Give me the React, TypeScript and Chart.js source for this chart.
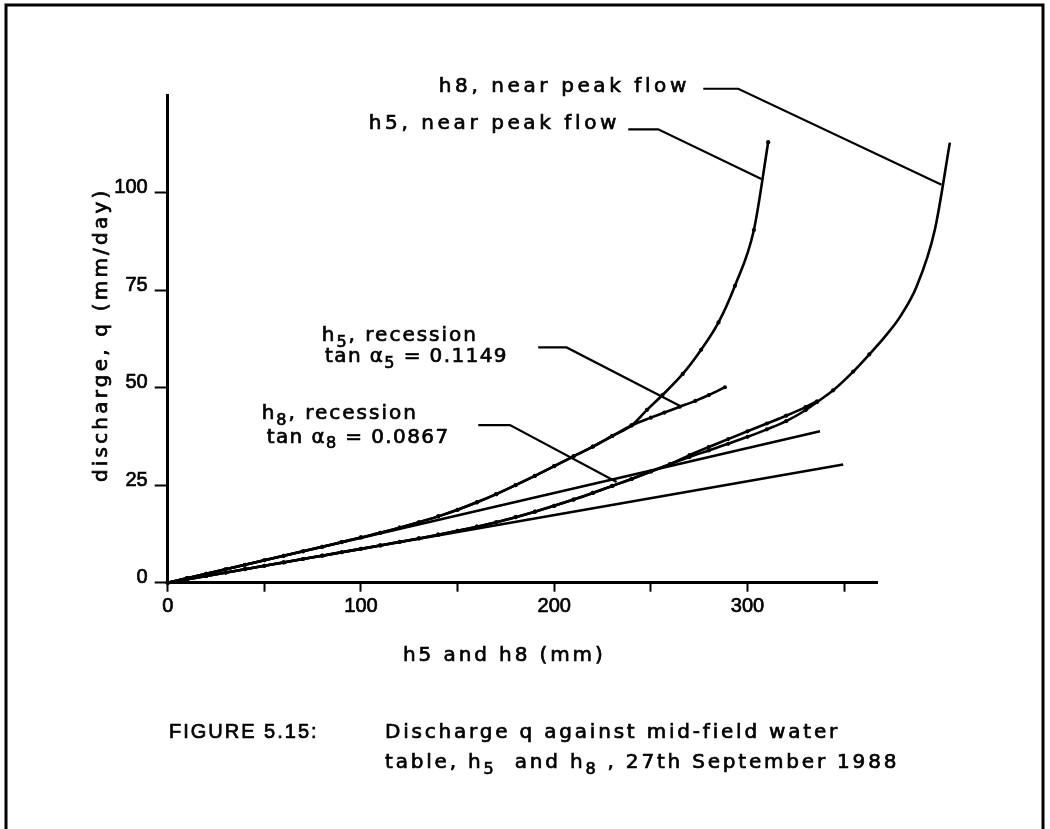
import React, { useEffect, useRef } from "react";
import { Chart, registerables } from "chart.js";

Chart.register(...registerables);

// ---------------- data (h in mm, q in mm/day) ----------------
const h5PeakH = [0, 10, 20, 30, 40, 50, 60, 70, 80, 90, 100, 110, 120, 130, 140, 150, 160, 170, 180, 190, 200, 210, 220, 230, 240, 248, 256, 266.5, 276, 285, 293.5, 303.3, 310.7];
const h5PeakQ = [0, 1.15, 2.3, 3.45, 4.6, 5.75, 6.9, 8.05, 9.2, 10.4, 11.6, 12.8, 14.1, 15.5, 17.0, 18.7, 20.6, 22.7, 25.0, 27.4, 29.9, 32.4, 34.9, 37.6, 40.3, 44.3, 48.1, 53.5, 59.7, 66.7, 76.1, 90.4, 112.9];

const h5RecessionH = [0, 10, 20, 30, 40, 50, 60, 70, 80, 90, 100, 110, 120, 130, 140, 150, 160, 170, 180, 190, 200, 210, 220, 230, 240, 250, 257, 265, 273, 280, 288.3];
const h5RecessionQ = [0, 1.15, 2.3, 3.45, 4.6, 5.75, 6.9, 8.05, 9.2, 10.4, 11.6, 12.8, 14.1, 15.5, 17.0, 18.7, 20.6, 22.7, 25.0, 27.4, 29.9, 32.4, 34.9, 37.6, 40.3, 42.3, 43.6, 45.1, 46.6, 48.1, 50.1];

const h8PeakH = [0, 10, 20, 30, 40, 50, 60, 70, 80, 90, 100, 110, 120, 130, 140, 150, 160, 170, 180, 190, 200, 210, 220, 230, 240, 250, 260, 270, 280, 290, 300, 310, 320, 330, 336, 344.3, 354.7, 363, 371, 379, 387.5, 396.9, 404.7];
const h8PeakQ = [0, 0.87, 1.73, 2.6, 3.47, 4.33, 5.2, 6.07, 6.93, 7.8, 8.67, 9.55, 10.45, 11.35, 12.3, 13.3, 14.35, 15.5, 16.8, 18.2, 19.7, 21.3, 23.0, 24.8, 26.6, 28.5, 30.4, 32.2, 33.9, 35.6, 37.4, 39.3, 41.4, 44.2, 46.3, 49.3, 54.1, 58.5, 63.0, 68.2, 75.9, 90.4, 112.8];

const h8RecessionH = [0, 10, 20, 30, 40, 50, 60, 70, 80, 90, 100, 110, 120, 130, 140, 150, 160, 170, 180, 190, 200, 210, 220, 230, 240, 250, 260, 270, 280, 290, 300, 310, 320, 330, 336];
const h8RecessionQ = [0, 0.87, 1.73, 2.6, 3.47, 4.33, 5.2, 6.07, 6.93, 7.8, 8.67, 9.55, 10.45, 11.35, 12.3, 13.3, 14.35, 15.5, 16.8, 18.2, 19.7, 21.3, 23.0, 24.8, 26.6, 28.5, 30.4, 32.7, 34.8, 36.8, 38.8, 40.8, 42.8, 45.0, 46.5];

// tangent lines at the origin (tan α5 = 0.1149, tan α8 = 0.0867)
const tanAlpha5H = [0, 337.5];
const tanAlpha5Q = [0, 38.8];
const tanAlpha8H = [0, 349.5];
const tanAlpha8Q = [0, 30.3];

// leader lines from the labels to the curves
const h8PeakLeaderH = [277.1, 295.2, 400.4];
const h8PeakLeaderQ = [126.6, 126.6, 102.0];
const h5PeakLeaderH = [238.3, 253.8, 307.2];
const h5PeakLeaderQ = [116.2, 116.2, 103.5];
const h5RecLeaderH = [191.7, 206.4, 265.9];
const h5RecLeaderQ = [60.3, 60.3, 45.1];
const h8RecLeaderH = [160.7, 177.1, 232.3];
const h8RecLeaderQ = [40.4, 40.4, 25.8];

const xTickLabels = [0, 100, 200, 300];
const yTickLabels = [0, 25, 50, 75, 100];

// annotation labels (anchored in data units); "_d" marks a subscript digit
const annotations = [
  { text: "h8, near peak flow", h: 270.2, q: 127.2, align: "right", spacing: 3.6 },
  { text: "h5, near peak flow", h: 234.0, q: 117.8, align: "right", spacing: 3.6 },
  { text: "h_5, recession", h: 79.7, q: 63.5, align: "left", spacing: 2.0 },
  { text: "tan α_5 = 0.1149", h: 81.4, q: 58.1, align: "left", spacing: 1.4 },
  { text: "h_8, recession", h: 48.6, q: 43.5, align: "left", spacing: 2.0 },
  { text: "tan α_8 = 0.0867", h: 51.2, q: 37.4, align: "left", spacing: 1.4 },
];

const X_TITLE = "h5 and h8 (mm)";
const Y_TITLE = "discharge, q (mm/day)";
const CAPTION_LABEL = "FIGURE 5.15:";
const CAPTION_LINE1 = "Discharge q against mid-field water";
const CAPTION_LINE2 = "table, h_5  and h_8 , 27th September 1988";

const LABEL_FAMILY = '"DejaVu Sans", sans-serif';
const TICK_FONT_FAMILY = '"Liberation Sans", Arial, sans-serif';

function pts(xs: number[], ys: number[]) {
  return xs.map((x, i) => ({ x, y: ys[i] }));
}

function curve(label: string, xs: number[], ys: number[], reverse = false) {
  const data = pts(xs, ys);
  return {
    label,
    data: reverse ? data.slice().reverse() : data,
    borderColor: "#000",
    backgroundColor: "#000",
    borderWidth: 2.6,
    pointRadius: 2.1,
    pointBorderWidth: 0,
    pointBackgroundColor: "#000",
    cubicInterpolationMode: "monotone",
    clip: false,
  };
}

function straight(label: string, xs: number[], ys: number[], width = 2.5) {
  return {
    label,
    data: pts(xs, ys),
    borderColor: "#000",
    backgroundColor: "#000",
    borderWidth: width,
    pointRadius: 0,
    tension: 0,
    clip: false,
  };
}

function parseRich(s: string) {
  const out: { t: string; sub: boolean }[] = [];
  const re = /_(\d)/g;
  let last = 0;
  let m: RegExpExecArray | null;
  while ((m = re.exec(s))) {
    if (m.index > last) out.push({ t: s.slice(last, m.index), sub: false });
    out.push({ t: m[1], sub: true });
    last = re.lastIndex;
  }
  if (last < s.length) out.push({ t: s.slice(last), sub: false });
  return out;
}

// draws text whose vertical centre (x-height middle) is at y
function drawRich(ctx: any, s: string, x: number, y: number, size: number, align: string, spacing: number, family = LABEL_FAMILY) {
  const segs = parseRich(s);
  ctx.save();
  ctx.letterSpacing = spacing + "px";
  const fontFor = (sub: boolean) => `${sub ? Math.round(size * 0.78) : size}px ${family}`;
  let total = 0;
  const widths = segs.map((g) => {
    ctx.font = fontFor(g.sub);
    const w = ctx.measureText(g.t).width;
    total += w;
    return w;
  });
  let cx = align === "left" ? x : align === "right" ? x - total : x - total / 2;
  const base = y + size * 0.3;
  ctx.textAlign = "left";
  ctx.textBaseline = "alphabetic";
  ctx.fillStyle = "#000";
  ctx.strokeStyle = "#000";
  ctx.lineWidth = 0.7;
  segs.forEach((g, i) => {
    ctx.font = fontFor(g.sub);
    const yy = base + (g.sub ? size * 0.28 : 0);
    ctx.fillText(g.t, cx, yy);
    ctx.strokeText(g.t, cx, yy);
    cx += widths[i];
  });
  ctx.restore();
}

const decorPlugin = {
  id: "decor",
  beforeDraw(chart: any) {
    const ctx = chart.ctx;
    ctx.save();
    ctx.strokeStyle = "#000";
    ctx.lineWidth = 3;
    ctx.beginPath();
    ctx.moveTo(6, chart.height);
    ctx.lineTo(6, 5);
    ctx.lineTo(1043, 5);
    ctx.lineTo(1043, chart.height);
    ctx.stroke();
    ctx.restore();
  },
  afterDraw(chart: any) {
    const ctx = chart.ctx;
    const a = chart.chartArea;
    const xs = chart.scales.x;
    const ys = chart.scales.y;

    annotations.forEach((an) => {
      drawRich(ctx, an.text, xs.getPixelForValue(an.h), ys.getPixelForValue(an.q), 20, an.align, an.spacing);
    });

    // x axis title
    drawRich(ctx, X_TITLE, (a.left + a.right) / 2 - 18, a.bottom + 72, 20, "center", 2.9);

    // y axis title (rotated)
    ctx.save();
    ctx.translate(a.left - 67, (a.top + a.bottom) / 2 - 4);
    ctx.rotate(-Math.PI / 2);
    drawRich(ctx, Y_TITLE, 0, 0, 20, "center", 3.2);
    ctx.restore();

    // caption
    drawRich(ctx, CAPTION_LABEL, 169, 732, 20, "left", 2.0, TICK_FONT_FAMILY);
    drawRich(ctx, CAPTION_LINE1, 385, 732, 20, "left", 2.8);
    drawRich(ctx, CAPTION_LINE2, 385, 762, 20, "left", 2.8);
  },
};

export default function App() {
  const ref = useRef<HTMLCanvasElement>(null);

  useEffect(() => {
    const canvas = ref.current;
    if (!canvas) return;
    const chart = new Chart(canvas, {
      type: "line",
      data: {
        datasets: [
          straight("tan α5", tanAlpha5H, tanAlpha5Q),
          straight("tan α8", tanAlpha8H, tanAlpha8Q),
          curve("h5, near peak flow", h5PeakH, h5PeakQ),
          curve("h5, recession", h5RecessionH, h5RecessionQ),
          curve("h8, near peak flow", h8PeakH, h8PeakQ, true),
          curve("h8, recession", h8RecessionH, h8RecessionQ),
          straight("leader h8 peak", h8PeakLeaderH, h8PeakLeaderQ, 2.2),
          straight("leader h5 peak", h5PeakLeaderH, h5PeakLeaderQ, 2.2),
          straight("leader h5 recession", h5RecLeaderH, h5RecLeaderQ, 2.2),
          straight("leader h8 recession", h8RecLeaderH, h8RecLeaderQ, 2.2),
        ] as any,
      },
      options: {
        responsive: false,
        maintainAspectRatio: false,
        animation: false,
        devicePixelRatio: 1,
        events: [],
        layout: { padding: { left: 107.7, top: 95, right: 173, bottom: 206.3 } },
        plugins: { legend: { display: false }, tooltip: { enabled: false } },
        scales: {
          x: {
            type: "linear",
            min: 0,
            max: 367,
            afterFit: (s: any) => { s.height = 40; },
            border: { display: true, color: "#000", width: 3 },
            grid: { drawOnChartArea: false, drawTicks: true, tickLength: 9, tickWidth: 2, tickColor: "#000" },
            ticks: {
              stepSize: 50,
              includeBounds: false,
              autoSkip: false,
              maxRotation: 0,
              padding: 3,
              color: "#000",
              textStrokeColor: "#000",
              textStrokeWidth: 0.7,
              font: { family: TICK_FONT_FAMILY, size: 20 },
              callback: (v: any) => (xTickLabels.includes(Number(v)) ? String(v) : ""),
            },
          },
          y: {
            type: "linear",
            min: 0,
            max: 125,
            afterFit: (s: any) => { s.width = 60; },
            border: { display: true, color: "#000", width: 3 },
            grid: {
              drawOnChartArea: false,
              drawTicks: true,
              tickLength: 13,
              tickWidth: 2,
              tickColor: (c: any) => (c.tick && yTickLabels.includes(c.tick.value) ? "#000" : "rgba(0,0,0,0)"),
            },
            ticks: {
              stepSize: 25,
              autoSkip: false,
              padding: 7,
              labelOffset: -5,
              color: "#000",
              textStrokeColor: "#000",
              textStrokeWidth: 0.7,
              font: { family: TICK_FONT_FAMILY, size: 20 },
              callback: (v: any) => (yTickLabels.includes(Number(v)) ? String(v) : ""),
            },
          },
        },
      } as any,
      plugins: [decorPlugin],
    });
    return () => chart.destroy();
  }, []);

  return (
    <canvas
      ref={ref}
      width={1050}
      height={829}
      style={{ position: "fixed", left: 0, top: 0, width: 1050, height: 829 }}
    />
  );
}
